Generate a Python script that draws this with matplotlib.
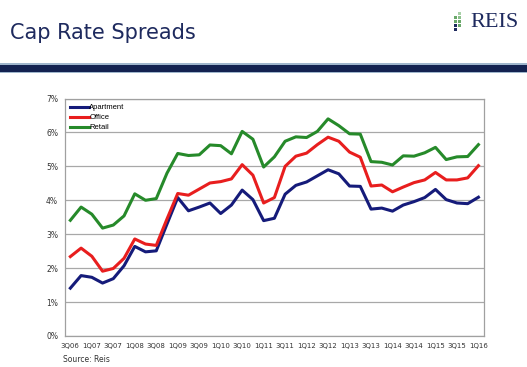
import matplotlib
matplotlib.use("Agg")
import matplotlib.pyplot as plt
from matplotlib.patches import Rectangle

# quarterly labels 3Q06 .. 1Q16
quarters = []
for yr in range(6, 17):
    for q in range(1, 5):
        if (yr == 6 and q < 3) or (yr == 16 and q > 1):
            continue
        quarters.append(f"{q}Q{yr:02d}")

apartment = [1.41, 1.78, 1.73, 1.56, 1.69, 2.07, 2.64, 2.48, 2.51, 3.30,
             4.08, 3.69, 3.80, 3.92, 3.61, 3.86, 4.30, 4.02, 3.40, 3.47,
             4.18, 4.44, 4.54, 4.72, 4.90, 4.78, 4.42, 4.41, 3.74, 3.77,
             3.68, 3.86, 3.96, 4.08, 4.32, 4.02, 3.92, 3.90, 4.09]
office = [2.34, 2.59, 2.35, 1.91, 1.99, 2.29, 2.86, 2.71, 2.67, 3.45,
          4.20, 4.15, 4.33, 4.51, 4.55, 4.63, 5.05, 4.74, 3.92, 4.08,
          5.00, 5.30, 5.39, 5.64, 5.86, 5.74, 5.42, 5.27, 4.42, 4.45,
          4.25, 4.39, 4.52, 4.60, 4.82, 4.60, 4.60, 4.66, 5.02]
retail = [3.41, 3.80, 3.59, 3.18, 3.27, 3.54, 4.19, 4.00, 4.05, 4.80,
          5.38, 5.32, 5.34, 5.63, 5.61, 5.37, 6.03, 5.80, 4.98, 5.28,
          5.74, 5.87, 5.85, 6.03, 6.40, 6.20, 5.96, 5.95, 5.14, 5.12,
          5.04, 5.31, 5.30, 5.40, 5.56, 5.20, 5.28, 5.29, 5.64]

series = [("Apartment", apartment, "#151b7a"),
          ("Office", office, "#e81e1e"),
          ("Retail", retail, "#268a2a")]
navy = "#1e2a5e"

fig = plt.figure(figsize=(5.27, 3.67), dpi=100)
ax = fig.add_axes([0.1233, 0.0845, 0.7947, 0.6471])

x = list(range(len(quarters)))
for name, vals, col in series:
    ax.plot(x, vals, color=col, lw=2.2, label=name)

ax.set_xlim(-0.5, len(quarters) - 0.5)
ax.set_ylim(0, 7)
ax.set_yticks(range(0, 8))
ax.set_yticklabels([f"{v}%" for v in range(0, 8)])
ax.set_xticks(x[::2])
ax.set_xticklabels(quarters[::2])
ax.tick_params(length=0, labelsize=5, colors="#333333", pad=5)
ax.tick_params(axis="y", labelsize=5.5)
ax.grid(axis="y", color="#a8a8a8", lw=0.9)
ax.set_axisbelow(True)
for s in ax.spines.values():
    s.set_color("#a0a0a0")
    s.set_linewidth(0.9)

ax.legend(loc="upper left", frameon=False,
          handlelength=2.4, handletextpad=0.1, labelspacing=0.35,
          borderaxespad=0.3, prop={"family": "Liberation Sans", "size": 5.5})

fig.text(0.019, 0.91, "Cap Rate Spreads", fontsize=15, color=navy,
         ha="left", va="center", family="DejaVu Sans")
fig.text(0.12, 0.008, "Source: Reis", fontsize=5.5, color="#333333",
         ha="left", va="bottom")

# header band
fig.add_artist(Rectangle((0, 0.805), 1, 0.018, transform=fig.transFigure,
                         color="#132250", lw=0))
fig.add_artist(Rectangle((0, 0.823), 1, 0.004, transform=fig.transFigure,
                         color="#9fb6cc", lw=0))
fig.add_artist(Rectangle((0, 0.801), 1, 0.004, transform=fig.transFigure,
                         color="#9fb6cc", lw=0))

# logo
fig.text(0.985, 0.94, "REIS", fontsize=16, color=navy, family="Liberation Serif",
         ha="right", va="center")
dots = [(0, 0, navy), (0, 1, navy), (0, 2, "#6aa86a"), (1, 1, "#6aa86a"),
        (1, 2, "#6aa86a"), (1, 3, "#8cc08c"), (0, 3, "#6aa86a"), (1, 4, "#a8d0a8")]
for dx, dy, c in dots:
    fig.add_artist(Rectangle((0.862 + dx * 0.007, 0.915 + dy * 0.011), 0.005, 0.008,
                             transform=fig.transFigure, color=c, lw=0))

fig.savefig("out.png", dpi=100)
